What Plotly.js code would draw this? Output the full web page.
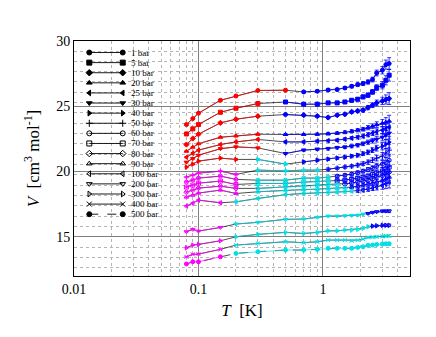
<!DOCTYPE html>
<html>
<head>
<meta charset="utf-8">
<script src="https://cdn.plot.ly/plotly-3.0.1.min.js"></script>
<style>
  html, body { margin: 0; padding: 0; background: #fff; }
  #chart { width: 436px; height: 337px; }
</style>
</head>
<body>
<div id="chart"></div>
<script>
// temperatures of the measuring points [K]
const T_K = [0.08, 0.09, 0.1, 0.15, 0.2, 0.3, 0.5, 0.7, 0.9, 1.1, 1.3, 1.5, 1.7, 1.9, 2.1, 2.3, 2.5, 2.7, 3.0, 3.2, 3.4];

const PRESSURES = ['1 bar', '5 bar', '10 bar', '20 bar', '25 bar', '30 bar', '40 bar', '50 bar',
  '60 bar', '70 bar', '80 bar', '90 bar', '100 bar', '200 bar', '300 bar', '400 bar', '500 bar'];

// molar volume [cm3/mol], one value per temperature above
const V_1   = [23.60, 24.06, 24.47, 25.46, 25.79, 26.21, 26.23, 26.10, 26.15, 26.25, 26.28, 26.40, 26.53, 26.66, 26.74, 26.86, 27.05, 27.55, 27.76, 28.19, 28.27];
const V_5   = [22.88, 23.27, 23.60, 24.54, 24.85, 25.21, 25.33, 25.16, 25.16, 25.26, 25.26, 25.33, 25.46, 25.54, 25.72, 25.85, 26.10, 26.43, 26.61, 26.99, 27.38];
const V_10  = [22.07, 22.53, 22.86, 23.73, 24.01, 24.24, 24.37, 24.32, 24.24, 24.14, 24.32, 24.39, 24.57, 24.64, 24.70, 24.90, 25.08, 25.26, 25.41, 25.52, 25.59];
const V_20  = [21.56, 21.87, 22.13, 22.63, 22.73, 22.86, 22.84, 22.84, 22.86, 22.90, 22.94, 23.01, 23.09, 23.17, 23.24, 23.36, 23.47, 23.59, 23.70, 23.78, 23.86];
const V_25  = [21.10, 21.41, 21.64, 22.07, 22.27, 22.46, 22.27, 22.27, 22.33, 22.36, 22.40, 22.48, 22.56, 22.63, 22.71, 22.82, 22.94, 23.05, 23.17, 23.28, 23.40];
const V_30  = [20.72, 20.99, 21.25, 21.75, 21.89, 21.81, 21.38, 21.64, 21.71, 21.75, 21.83, 21.87, 21.94, 22.02, 22.13, 22.25, 22.36, 22.48, 22.63, 22.79, 22.94];
const V_40  = [20.34, 20.57, 20.80, 21.03, 20.93, 20.93, 20.57, 20.74, 20.87, 20.95, 21.03, 21.10, 21.18, 21.25, 21.37, 21.48, 21.64, 21.79, 21.94, 22.10, 22.25];
const V_50  = [19.57, 19.72, 19.88, 20.03, 19.78, 20.11, 20.05, 20.11, 20.11, 20.18, 20.26, 20.34, 20.41, 20.49, 20.60, 20.72, 20.87, 21.03, 21.18, 21.41, 21.64];
const V_60  = [19.19, 19.34, 19.50, 19.65, 19.40, 19.34, 19.34, 19.50, 19.50, 19.57, 19.65, 19.72, 19.80, 19.92, 20.03, 20.15, 20.26, 20.41, 20.57, 20.72, 20.87];
const V_70  = [18.81, 18.96, 19.11, 19.27, 19.01, 19.09, 19.09, 19.19, 19.23, 19.27, 19.30, 19.34, 19.42, 19.50, 19.57, 19.65, 19.76, 19.88, 20.03, 20.18, 20.34];
const V_80  = [18.42, 18.58, 18.73, 18.88, 18.71, 18.71, 18.83, 18.88, 18.92, 18.96, 19.00, 19.04, 19.11, 19.19, 19.27, 19.34, 19.46, 19.57, 19.69, 19.80, 19.95];
const V_90  = [18.04, 18.19, 18.35, 18.58, 18.32, 18.45, 18.58, 18.62, 18.65, 18.69, 18.73, 18.77, 18.81, 18.88, 18.96, 19.04, 19.11, 19.19, 19.30, 19.42, 19.57];
const V_100 = [17.35, 17.58, 17.81, 17.61, 17.68, 17.94, 18.23, 18.32, 18.35, 18.39, 18.42, 18.46, 18.50, 18.54, 18.58, 18.65, 18.73, 18.81, 18.92, 19.04, 19.19];
const V_200 = [15.39, 15.57, 15.44, 15.72, 15.98, 16.11, 16.34, 16.36, 16.49, 16.59, 16.59, 16.61, 16.64, 16.66, 16.74, 16.79, 16.87, 16.92, 16.97, 16.97, 16.97];
const V_300 = [14.16, 14.37, 14.42, 14.70, 15.00, 15.19, 15.34, 15.26, 15.34, 15.46, 15.46, 15.52, 15.52, 15.57, 15.65, 15.77, 15.82, 15.85, 15.88, 15.88, 15.88];
const V_400 = [13.47, 13.66, 13.68, 14.04, 14.37, 14.50, 14.62, 14.55, 14.62, 14.75, 14.75, 14.75, 14.70, 14.75, 14.83, 14.96, 14.98, 15.00, 15.03, 15.06, 15.08];
const V_500 = [12.92, 13.09, 13.09, 13.47, 13.73, 13.86, 13.99, 13.99, 14.04, 14.12, 14.12, 14.12, 14.12, 14.19, 14.24, 14.35, 14.37, 14.42, 14.45, 14.47, 14.47];

const V_BY_P = [V_1, V_5, V_10, V_20, V_25, V_30, V_40, V_50, V_60, V_70, V_80, V_90, V_100, V_200, V_300, V_400, V_500];

// error bars
const ERR_UPPER = [0.05, 0.05, 0.05, 0.06, 0.06, 0.07, 0.08, 0.08, 0.09, 0.10, 0.10, 0.11, 0.12, 0.13, 0.14, 0.16, 0.18, 0.22, 0.28, 0.35, 0.45];
const ERR_LOWER = [0.03, 0.03, 0.03, 0.03, 0.03, 0.03, 0.03, 0.03, 0.04, 0.04, 0.04, 0.04, 0.05, 0.05, 0.05, 0.06, 0.06, 0.07, 0.08, 0.09, 0.10];

// successive measurement runs: [number of points, run]
const RUNS = [
  [[7, 'r'], [14, 'b']],
  [[6, 'r'], [15, 'b']],
  [[6, 'r'], [15, 'b']],
  [[6, 'r'], [15, 'b']],
  [[6, 'r'], [15, 'b']],
  [[6, 'r'], [15, 'b']],
  [[5, 'r'], [2, 'c'], [14, 'b']],
  [[5, 'm'], [4, 'c'], [12, 'b']],
  [[5, 'm'], [5, 'c'], [11, 'b']],
  [[5, 'm'], [5, 'c'], [11, 'b']],
  [[5, 'm'], [6, 'c'], [10, 'b']],
  [[5, 'm'], [7, 'c'], [9, 'b']],
  [[4, 'm'], [9, 'c'], [8, 'b']],
  [[4, 'm'], [11, 'c'], [6, 'b']],
  [[4, 'm'], [12, 'c'], [5, 'b']],
  [[4, 'm'], [17, 'c']],
  [[4, 'm'], [17, 'c']]
];

const RUN_COLORS = { r: '#ff0000', b: '#0000ff', c: '#00e0e8', m: '#ff00ff' };
const SYMBOLS = ['circle', 'square', 'diamond', 'triangle-up', 'triangle-left', 'triangle-down', 'triangle-right',
  'cross-thin-open', 'circle-open', 'square-open', 'diamond-open', 'triangle-up-open', 'triangle-left-open',
  'triangle-down-open', 'triangle-right-open', 'x-thin-open', 'circle'];

const SERIF = '"Liberation Serif", "Times New Roman", serif';
const traces = [];

PRESSURES.forEach((p, k) => {
  const v = V_BY_P[k];
  const err = k < 13 ? ERR_UPPER : ERR_LOWER;
  const dashed = p === '500 bar';

  // black line joining the runs
  traces.push({
    x: T_K, y: v, mode: 'lines', hoverinfo: 'skip',
    line: { color: '#000', width: 0.7, dash: dashed ? 'dash' : 'solid' }
  });

  let start = 0;
  RUNS[k].forEach(([n, run]) => {
    const c = RUN_COLORS[run];
    traces.push({
      x: T_K.slice(start, start + n),
      y: v.slice(start, start + n),
      name: p,
      mode: 'lines+markers',
      line: { color: c, width: 0.7 },
      marker: { symbol: SYMBOLS[k], size: 4, color: c, line: { color: c, width: 1 } },
      error_y: { type: 'data', array: err.slice(start, start + n), visible: true, color: c, thickness: 0.8, width: 2 }
    });
    start += n;
  });
});

// hand-drawn key (two markers per row, like the original)
const annotations = [];
const rowTop = 0.951, rowStep = 0.043;
PRESSURES.forEach((p, k) => {
  const yy = rowTop - k * rowStep;
  traces.push({
    x: [0.0455, 0.145], y: [yy, yy], xaxis: 'x2', yaxis: 'y2',
    mode: 'lines+markers', hoverinfo: 'skip',
    line: { color: '#000', width: 0.9, dash: p === '500 bar' ? 'dash' : 'solid' },
    marker: { symbol: SYMBOLS[k], size: 5, color: '#000', line: { color: '#000', width: 1 } }
  });
  annotations.push({
    xref: 'paper', yref: 'paper', x: 0.163, y: yy, xanchor: 'left', yanchor: 'middle',
    text: p, showarrow: false, font: { family: SERIF, size: 9, color: '#000' }
  });
});

const minorX = [];
[0.01, 0.1, 1].forEach(d => { for (let m = 2; m <= 9; m++) minorX.push(m * d); });

const layout = {
  width: 436, height: 337,
  margin: { l: 74, r: 26, t: 41, b: 61 },
  paper_bgcolor: '#fff', plot_bgcolor: '#fff',
  showlegend: false,
  font: { family: SERIF, size: 14, color: '#000' },
  xaxis: {
    type: 'log', range: [-2, Math.log10(5)],
    tickvals: [0.01, 0.1, 1], ticktext: ['0.01', '0.1', '1'],
    ticks: '', showline: true, mirror: true, linecolor: '#000', linewidth: 1,
    showgrid: true, gridcolor: '#808080', gridwidth: 1, zeroline: false,
    minor: { tickvals: minorX, showgrid: true, gridcolor: '#b4b4b4', griddash: 'dot', gridwidth: 1 },
    title: { text: '<i>T</i>  [K]', font: { family: SERIF, size: 17 }, standoff: 8 }
  },
  yaxis: {
    range: [12, 30], tickvals: [15, 20, 25, 30],
    ticks: '', showline: true, mirror: true, linecolor: '#000', linewidth: 1,
    showgrid: true, gridcolor: '#808080', gridwidth: 1, zeroline: false,
    minor: { tick0: 29.23, dtick: 0.79, showgrid: true, gridcolor: '#b4b4b4', griddash: 'dot', gridwidth: 1 },
    title: { text: '<i>V</i>  [cm<sup>3</sup> mol<sup>-1</sup>]', font: { family: SERIF, size: 17 }, standoff: 12 }
  },
  xaxis2: { overlaying: 'x', anchor: 'y2', range: [0, 1], visible: false, fixedrange: true },
  yaxis2: { overlaying: 'y', anchor: 'x2', range: [0, 1], visible: false, fixedrange: true },
  annotations: annotations
};

Plotly.newPlot('chart', traces, layout, { staticPlot: true, displayModeBar: false });
</script>
</body>
</html>
